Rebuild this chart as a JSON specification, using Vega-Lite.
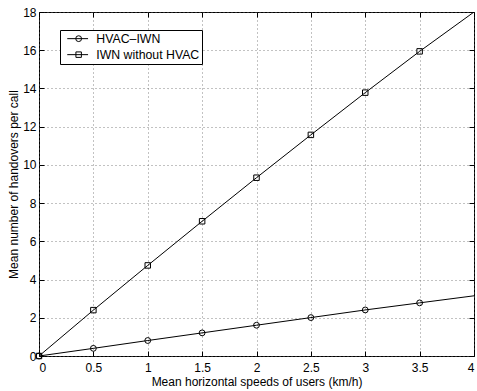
{
  "$schema": "https://vega.github.io/schema/vega-lite/v6.json",
  "width": 435,
  "height": 344,
  "autosize": "none",
  "padding": {"left": 39, "top": 12, "right": 3, "bottom": 35},
  "config": {
    "font": "Liberation Sans",
    "view": {"stroke": "black", "strokeWidth": 1},
    "axis": {
      "labelFont": "Liberation Sans",
      "titleFont": "Liberation Sans",
      "labelFontSize": 12,
      "titleFontSize": 12,
      "titleFontWeight": "normal",
      "labelColor": "black",
      "titleColor": "black",
      "domain": false,
      "tickColor": "black",
      "tickSize": -5,
      "grid": true,
      "gridColor": "#666",
      "gridDash": [1, 3],
      "gridWidth": 0.8
    },
    "legend": {
      "title": null,
      "orient": "none",
      "padding": 2.5,
      "rowPadding": 3,
      "labelFont": "Liberation Sans",
      "labelFontSize": 12.3,
      "labelColor": "black",
      "symbolStrokeColor": "black",
      "symbolFillColor": "transparent",
      "symbolStrokeWidth": 1,
      "symbolOpacity": 1
    }
  },
  "data": {
    "values": [
      {"series": "HVAC–IWN", "x": 0, "y": 0},
      {"series": "HVAC–IWN", "x": 0.5, "y": 0.40},
      {"series": "HVAC–IWN", "x": 1, "y": 0.81},
      {"series": "HVAC–IWN", "x": 1.5, "y": 1.21},
      {"series": "HVAC–IWN", "x": 2, "y": 1.61},
      {"series": "HVAC–IWN", "x": 2.5, "y": 2.01},
      {"series": "HVAC–IWN", "x": 3, "y": 2.41},
      {"series": "HVAC–IWN", "x": 3.5, "y": 2.78},
      {"series": "HVAC–IWN", "x": 4, "y": 3.15},
      {"series": "IWN without HVAC", "x": 0, "y": 0},
      {"series": "IWN without HVAC", "x": 0.5, "y": 2.40},
      {"series": "IWN without HVAC", "x": 1, "y": 4.74},
      {"series": "IWN without HVAC", "x": 1.5, "y": 7.05},
      {"series": "IWN without HVAC", "x": 2, "y": 9.33},
      {"series": "IWN without HVAC", "x": 2.5, "y": 11.57},
      {"series": "IWN without HVAC", "x": 3, "y": 13.78},
      {"series": "IWN without HVAC", "x": 3.5, "y": 15.94},
      {"series": "IWN without HVAC", "x": 4, "y": 18.0}
    ]
  },
  "resolve": {
    "axis": {"x": "independent", "y": "independent"},
    "scale": {"color": "independent"},
    "legend": {"color": "independent"}
  },
  "layer": [
    {
      "mark": {"type": "line", "color": "black", "strokeWidth": 1, "clip": true},
      "encoding": {
        "x": {"field": "x", "type": "quantitative", "scale": {"domain": [0, 4], "nice": false},
              "axis": {"values": [0, 0.5, 1, 1.5, 2, 2.5, 3, 3.5, 4], "format": "~g", "labelPadding": 11, "title": "Mean horizontal speeds of users (km/h)", "titlePadding": 3}},
        "y": {"field": "y", "type": "quantitative", "scale": {"domain": [0, 18], "nice": false},
              "axis": {"values": [0, 2, 4, 6, 8, 10, 12, 14, 16, 18], "labelPadding": 8, "title": "Mean number of handovers per call", "titlePadding": 2}},
        "detail": {"field": "series"}
      }
    },
    {
      "transform": [{"filter": "datum.x < 4"}],
      "mark": {"type": "point", "filled": false, "opacity": 0, "size": 10},
      "encoding": {
        "x": {"field": "x", "type": "quantitative", "scale": {"domain": [0, 4], "nice": false},
              "axis": {"orient": "top", "values": [0, 0.5, 1, 1.5, 2, 2.5, 3, 3.5, 4], "labels": false, "title": null, "grid": false}},
        "y": {"field": "y", "type": "quantitative", "scale": {"domain": [0, 18], "nice": false},
              "axis": {"orient": "right", "values": [0, 2, 4, 6, 8, 10, 12, 14, 16, 18], "labels": false, "title": null, "grid": false}},
        "color": {
          "field": "series", "type": "nominal",
          "scale": {"domain": ["HVAC–IWN", "IWN without HVAC"], "range": ["black", "black"]},
          "legend": {
            "legendX": 21,
            "legendY": 18,
            "fillColor": "white",
            "strokeColor": "black",
            "symbolType": "M-2.6,0H2.6",
            "symbolSize": 64,
            "symbolOffset": 9,
            "labelOffset": 12.5,
            "encode": {"legend": {"strokeWidth": {"value": 1.5}}}
          }
        }
      }
    },
    {
      "transform": [{"filter": "datum.x < 4 && datum.series == 'HVAC–IWN'"}],
      "mark": {"type": "circle", "filled": false, "strokeWidth": 1, "size": 34, "opacity": 1},
      "encoding": {
        "x": {"field": "x", "type": "quantitative", "scale": {"domain": [0, 4], "nice": false}, "axis": null},
        "y": {"field": "y", "type": "quantitative", "scale": {"domain": [0, 18], "nice": false}, "axis": null},
        "color": {
          "field": "series", "type": "nominal",
          "scale": {"domain": ["HVAC–IWN"], "range": ["black"]},
          "legend": {
            "legendX": 21,
            "legendY": 18,
            "symbolType": "circle",
            "symbolSize": 34,
            "symbolOffset": 10,
            "labelOffset": 12.5,
            "labelOpacity": 0
          }
        }
      }
    },
    {
      "transform": [{"filter": "datum.x < 4 && datum.series == 'IWN without HVAC'"}],
      "mark": {"type": "square", "filled": false, "strokeWidth": 1, "size": 30, "opacity": 1},
      "encoding": {
        "x": {"field": "x", "type": "quantitative", "scale": {"domain": [0, 4], "nice": false}, "axis": null},
        "y": {"field": "y", "type": "quantitative", "scale": {"domain": [0, 18], "nice": false}, "axis": null},
        "color": {
          "field": "series", "type": "nominal",
          "scale": {"domain": ["IWN without HVAC"], "range": ["black"]},
          "legend": {
            "legendX": 21,
            "legendY": 34,
            "symbolType": "square",
            "symbolSize": 30,
            "symbolOffset": 10,
            "labelOffset": 12.5,
            "labelOpacity": 0
          }
        }
      }
    }
  ]
}
